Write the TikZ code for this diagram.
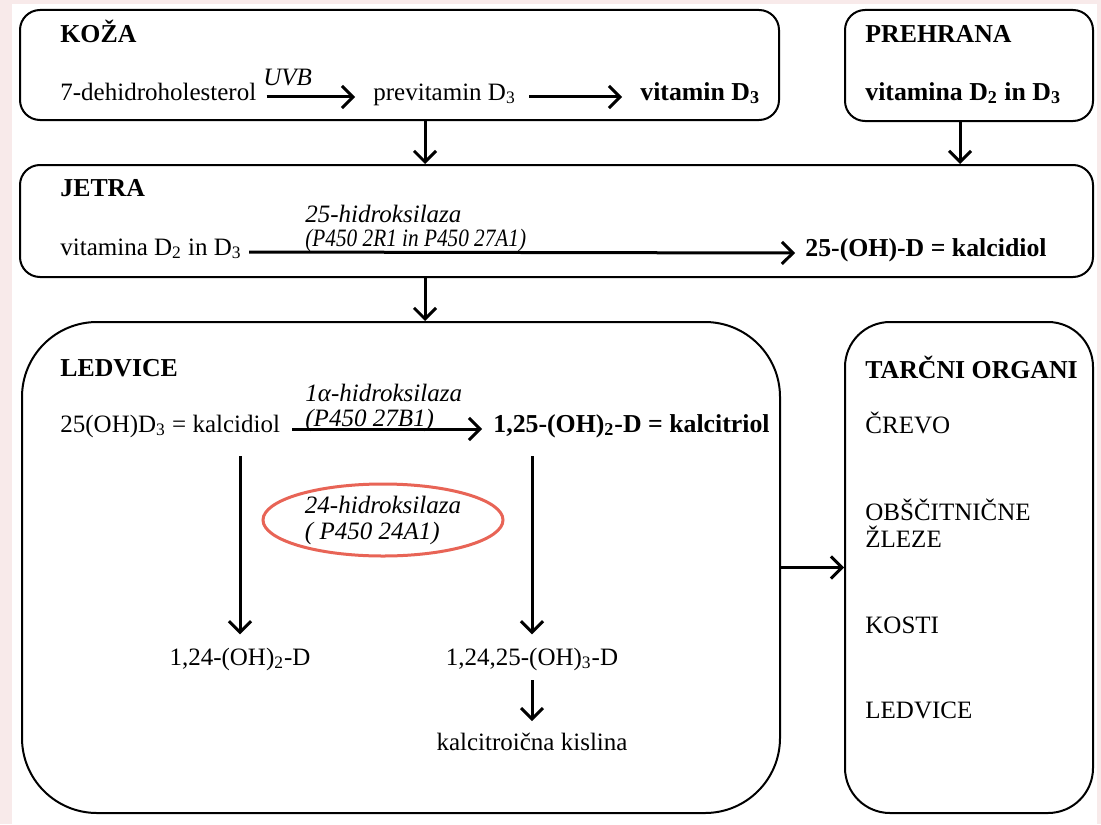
\documentclass[tikz,border=0pt]{standalone}
\usepackage{fontspec}
\setmainfont{Liberation Serif}
\usetikzlibrary{arrows.meta,positioning,shapes.geometric,calc}
\definecolor{pinkbg}{RGB}{248,234,234}
\definecolor{ringred}{RGB}{232,100,86}

\begin{document}
\fontsize{12.5pt}{13pt}\selectfont
\begin{tikzpicture}[%
    x=0.5pt, y=-0.5pt,                         % one unit = one pixel of the original
    >={Straight Barb[length=5.5pt,width=11pt]},% open chevron heads
    ]

\tikzset{
  box/.style={draw, line width=1pt, rounded corners=10pt, inner sep=0pt},
  txt/.style={anchor=base west, inner sep=0pt},
  ttl/.style={txt, font=\fontsize{12.9pt}{13pt}\selectfont\bfseries},
  enz/.style={txt, font=\itshape},
  arr/.style={->, draw, line width=1.5pt},
  ring/.style={draw=ringred, line width=1.5pt, ellipse, inner sep=0pt, align=left, font=\itshape}
}

  % page and margins
  \fill[pinkbg] (0,0) rectangle (1101,824);
  \fill[white] (12,4) rectangle (1097,824);
  \useasboundingbox (0,0) rectangle (1101,824);

  % -------------------------------------------------
  % the five boxes
  \node[box, minimum width=379.5pt, minimum height=55pt] (koza) at (399.5,65) {};
  \node[box, minimum width=124pt, minimum height=55.5pt] (prehrana) at (969,65.5) {};
  \node[box, minimum width=536.5pt, minimum height=56pt] (jetra) at (556.5,221) {};
  \node[box, rounded corners=37.5pt, minimum width=379pt, minimum height=245.5pt] (ledvice) at (401,567.5) {};
  \node[box, rounded corners=22.5pt, minimum width=124pt, minimum height=245.5pt] (tarcni) at (969,567.5) {};

  % -------------------------------------------------
  % koza
  \node[ttl] (kozaT) at (60,43) {KOŽA};
  \node[txt] (dehid) at (60,100) {7-dehidroholesterol};
  \node[txt] (previt) at (373,100) {previtamin D\textsubscript{3}};
  \node[ttl] (vitd3) at (640,100) {vitamin D\textsubscript{3}};
  \node[enz] (uvb) at (263,85) {UVB};
    \draw[arr] ([shift={(10,-3)}]dehid.base east) -- ([shift={(-18,-3)}]previt.base west);
    \draw[arr] ([shift={(13,-3)}]previt.base east) -- ([shift={(-18,-3)}]vitd3.base west);

  % prehrana
  \node[ttl] (prehT) at (865,43) {PREHRANA};
  \node[ttl] (prehV) at (865,100) {vitamina D\textsubscript{2} in D\textsubscript{3}};

  % jetra
  \node[ttl] (jetT) at (60,196) {JETRA};
  \node[txt] (jetV) at (60,255) {vitamina D\textsubscript{2} in D\textsubscript{3}};
  \node[enz] (h25a) at (305,222) {25-hidroksilaza};
  \node[enz] (h25b) at (305,246) {\scalebox{0.85}[1]{(P450 2R1 in P450 27A1)}};
  \node[ttl] (calcidiol) at (805,256) {25-(OH)-D = kalcidiol};
    \draw[arr] ([shift={(7,-3)}]jetV.base east) -- ([shift={(-10,-3)}]calcidiol.base west);

  % ledvice
  \node[ttl] (ledT) at (60,376) {LEDVICE};
  \node[txt] (kcd) at (60,432) {25(OH)D\textsubscript{3} = kalcidiol};
  \node[enz] (h1a) at (305,401) {1α-hidroksilaza};
  \node[enz] (h1b) at (305,426) {(P450 27B1)};
  \node[ttl] (kct) at (493,432) {1,25-(OH)\textsubscript{2}-D = kalcitriol};
    \draw[arr] ([shift={(12,-3)}]kcd.base east) -- ([shift={(-11,-3)}]kct.base west);

  \node[ring, minimum width=120pt, minimum height=36pt] (h24) at (383,520) {24-hidroksilaza\\( P450 24A1)};

  \node[txt, anchor=base] (d124) at (240,665) {1,24-(OH)\textsubscript{2}-D};
  \node[txt, anchor=base] (d12425) at (532,665) {1,24,25-(OH)\textsubscript{3}-D};
  \node[txt, anchor=base] (kisl) at (532,750) {kalcitroična kislina};
    \draw[arr] ($(kcd.base -| d124.base)+(0,24)$) -- ($(d124.north)+(0,-13)$);
    \draw[arr] ($(kct.base -| d12425.base)+(0,24)$) -- ($(d12425.north)+(0,-13)$);
    \draw[arr] ($(d12425.base)+(0,15)$) -- ($(kisl.north)+(0,-11)$);

  % tarcni organi
  \node[ttl] (tarT) at (865,378) {TARČNI ORGANI};
  \node[txt] (crevo) at (865,433) {ČREVO};
  \node[txt] (obsc) at (865,520) {OBŠČITNIČNE};
  \node[txt] (zleze) at (865,547) {ŽLEZE};
  \node[txt] (kosti) at (865,633) {KOSTI};
  \node[txt] (ledv2) at (865,718) {LEDVICE};

  % -------------------------------------------------
  % flow between the boxes
  \draw[arr] (koza.south -| 425,0) -- (jetra.north -| 425,0);
  \draw[arr] (prehrana.south -| 960,0) -- (jetra.north -| 960,0);
  \draw[arr] (jetra.south -| 425,0) -- (ledvice.north -| 425,0);
  \draw[arr] (ledvice.east) -- (tarcni.west);
\end{tikzpicture}
\end{document}
